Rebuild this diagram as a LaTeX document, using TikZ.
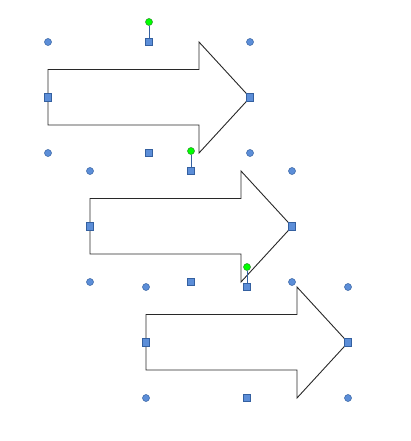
\documentclass[tikz,border=0pt]{standalone}
\definecolor{hblue}{RGB}{92,142,216}
\definecolor{hblueline}{RGB}{52,96,160}
\definecolor{hgreen}{RGB}{0,255,0}
\definecolor{hgreenline}{RGB}{40,140,40}
\definecolor{outline}{RGB}{40,40,40}
\tikzset{
  arrowshape/.style={draw=outline, fill=white, line width=0.9pt, line join=miter},
  cornerh/.style={circle, fill=hblue, draw=hblueline, line width=0.5pt, minimum size=7pt, inner sep=0pt},
  sideh/.style={rectangle, fill=hblue, draw=hblueline, line width=0.6pt, minimum size=7.5pt, inner sep=0pt},
  roth/.style={circle, fill=hgreen, draw=hgreenline, line width=0.5pt, minimum size=7pt, inner sep=0pt},
  rotline/.style={draw=hblueline, line width=0.8pt}
}
\begin{document}
\begin{tikzpicture}[x=1pt,y=-1pt]
\useasboundingbox (0,0) rectangle (411,441);
% arrows
\foreach \n/\xo/\yo in {1/48/42, 2/90/171, 3/146/287}{
  \draw[arrowshape] (\xo,\yo+27.5) -- (\xo+151,\yo+27.5) -- (\xo+151,\yo) -- (\xo+202,\yo+55.5)
     -- (\xo+151,\yo+111) -- (\xo+151,\yo+83) -- (\xo,\yo+83) -- cycle;
}
% handles
\foreach \n/\xo/\yo in {1/48/42, 2/90/171, 3/146/287}{
  \node[roth] (g\n) at (\xo+101,\yo-20) {};
  \node[sideh] (t\n) at (\xo+101,\yo) {};
  \draw[rotline] (g\n) -- (t\n);
  \node[cornerh] (nw\n) at (\xo,\yo) {};
  \node[cornerh] (ne\n) at (\xo+202,\yo) {};
  \node[cornerh] (sw\n) at (\xo,\yo+111) {};
  \node[cornerh] (se\n) at (\xo+202,\yo+111) {};
  \node[sideh] (w\n) at (\xo,\yo+55.5) {};
  \node[sideh] (e\n) at (\xo+202,\yo+55.5) {};
  \node[sideh] (s\n) at (\xo+101,\yo+111) {};
}
\end{tikzpicture}
\end{document}
